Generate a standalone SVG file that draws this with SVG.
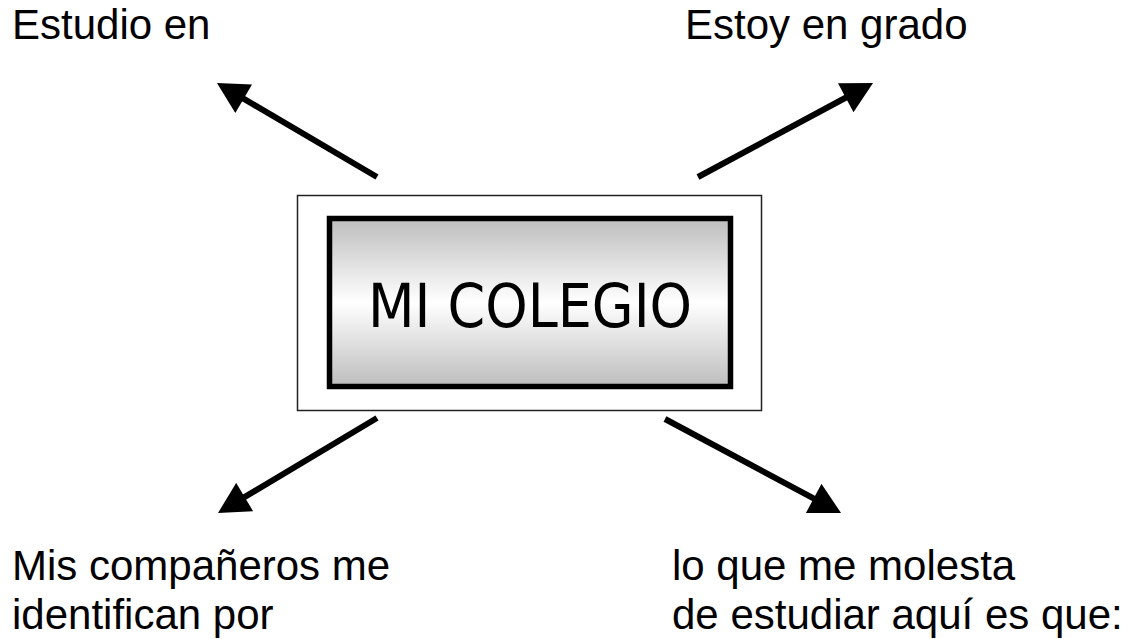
<svg xmlns="http://www.w3.org/2000/svg" width="1139" height="639" viewBox="0 0 1139 639">
<style>
.lbl{font-family:"Liberation Sans",Arial,sans-serif;font-size:42px;fill:#000}
.title{font-family:"DejaVu Sans",Verdana,sans-serif;font-size:60px;fill:#000}
.conn{stroke:#000;stroke-width:6;fill:none;marker-end:url(#ah)}
</style>
<defs>
<linearGradient id="g" x1="0" y1="0" x2="0" y2="1">
<stop offset="0" stop-color="#bdbdbd"/>
<stop offset="0.5" stop-color="#ffffff"/>
<stop offset="1" stop-color="#bdbdbd"/>
</linearGradient>
<marker id="ah" markerUnits="userSpaceOnUse" markerWidth="32" markerHeight="33" viewBox="0 0 31 33" refX="11" refY="16.5" orient="auto">
<path d="M0,0 L31,16.5 L0,33 Z" fill="#000"/>
</marker>
</defs>
<rect width="1139" height="639" fill="#fff"/>
<g id="center">
<rect x="297.5" y="195.5" width="464" height="215" fill="#fff" stroke="#222" stroke-width="1.5"/>
<rect x="329.5" y="218.5" width="401" height="168" fill="url(#g)" stroke="#000" stroke-width="5.5"/>
<text class="title" x="530" y="327" text-anchor="middle" textLength="324" lengthAdjust="spacingAndGlyphs">MI COLEGIO</text>
</g>
<g id="connectors">
<line class="conn" x1="377" y1="177" x2="234.2" y2="93.1"/>
<line class="conn" x1="698" y1="177" x2="855.4" y2="92.5"/>
<line class="conn" x1="377" y1="418" x2="235.2" y2="502.7"/>
<line class="conn" x1="665" y1="419" x2="823.4" y2="503.6"/>
</g>
<g id="n-estudio"><text class="lbl" x="12" y="39">Estudio en</text></g>
<g id="n-grado"><text class="lbl" x="685" y="39">Estoy en grado</text></g>
<g id="n-companeros"><text class="lbl" x="12" y="580">Mis compañeros me</text><text class="lbl" x="12" y="629">identifican por</text></g>
<g id="n-molesta"><text class="lbl" x="672" y="580">lo que me molesta</text><text class="lbl" x="672" y="629">de estudiar aquí es que:</text></g>
</svg>
